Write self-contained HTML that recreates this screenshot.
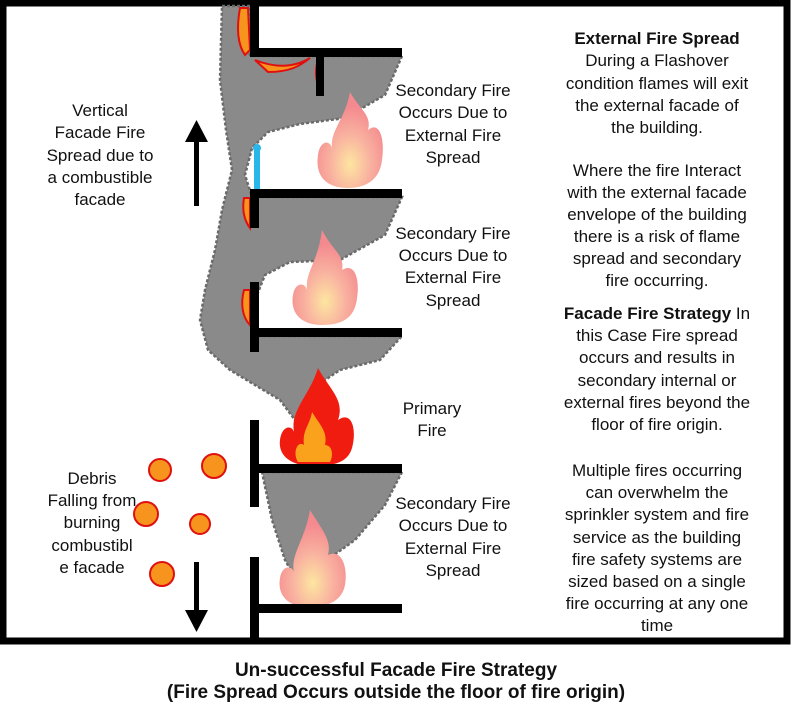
<!DOCTYPE html>
<html><head><meta charset="utf-8"><style>
html,body{margin:0;padding:0;background:#fff}
body{width:793px;height:712px;overflow:hidden;position:relative;font-family:"Liberation Sans",Arial,sans-serif}
svg{position:absolute;left:0;top:0}
</style></head><body>
<svg width="793" height="712" viewBox="0 0 793 712">
<defs>
<radialGradient id="pk" cx="50%" cy="75%" r="60%"><stop offset="0" stop-color="#fde6a0"/><stop offset="0.5" stop-color="#f9b3a0"/><stop offset="1" stop-color="#f48a8f"/></radialGradient>
</defs>
<!-- frame -->
<rect x="3" y="3" width="784" height="638" fill="none" stroke="#000" stroke-width="7"/>
<!-- smoke -->
<g fill="#8a8a8a" stroke="#6a6a6a" stroke-width="2.5" stroke-dasharray="3 2">
<path d="M222,6 L250,6 L250,56 L402,56 L385,95 L345,118 L300,124 L268,132 L252,148 L245,175 L252,197 L402,197 L385,235 L340,260 L290,262 L265,275 L255,300 L258,336 L402,336 L380,360 L340,370 L310,390 L295,420 L280,400 L255,385 L230,370 L208,350 L200,320 L205,290 L215,250 L222,210 L232,170 L226,130 L220,80 Z"/>
<path d="M262,472 L402,472 L385,505 L355,540 L320,565 L302,590 L285,560 L272,520 Z"/>
</g>
<!-- blue bar -->
<rect x="254" y="148" width="6" height="45" fill="#29b6e8"/><circle cx="257" cy="148" r="4" fill="#29b6e8"/>
<!-- pink flames -->
<g fill="url(#pk)">
<path d="M350,92 C360,110 372,115 368,130 C380,120 385,140 382,160 C380,178 368,188 348,188 C325,188 315,175 318,155 C320,140 330,140 332,148 C330,130 345,120 350,92Z"/>
<path d="M322,230 C332,250 345,255 342,270 C355,262 360,280 357,298 C355,318 342,325 322,325 C300,325 290,312 293,295 C295,282 305,282 307,290 C305,272 318,262 322,230Z"/>
<path d="M310,510 C322,530 332,540 328,555 C342,548 348,568 345,585 C342,600 330,607 308,607 C288,607 277,595 280,578 C282,565 292,565 294,572 C290,555 305,540 310,510Z"/>
</g>
<!-- primary fire -->
<path d="M318,368 C330,390 345,400 338,420 C352,410 357,430 352,448 C348,462 335,466 313,466 C290,466 278,455 280,440 C282,425 292,425 294,432 C290,410 310,395 318,368Z" fill="#f01c10"/>
<path d="M312,412 C320,425 328,432 325,445 C332,445 334,455 330,462 L298,462 C292,452 298,440 304,445 C302,430 310,425 312,412Z" fill="#fba21c"/>
<!-- small wall flames -->
<g fill="#f7941d" stroke="#e01010" stroke-width="2">
<path d="M240,8 L248,8 L250,50 L245,55 C238,45 236,30 240,8Z"/>
<path d="M255,60 C270,66 290,70 310,58 C300,66 290,72 268,72 Z"/>
<path d="M318,60 L322,60 L322,92 C316,85 314,72 318,60Z"/>
<path d="M244,198 L250,198 L250,228 C244,220 242,210 244,198Z"/>
<path d="M244,290 L250,290 L250,325 C243,318 240,305 244,290Z"/>
</g>
<!-- walls and slabs -->
<g fill="#000">
<rect x="250" y="6" width="9" height="50"/><rect x="250" y="48" width="152" height="9"/><rect x="316" y="56" width="8" height="40"/>
<rect x="250" y="189" width="152" height="9"/><rect x="250" y="193" width="9" height="35"/>
<rect x="250" y="328" width="152" height="9"/><rect x="250" y="282" width="9" height="70"/>
<rect x="250" y="464" width="152" height="9"/><rect x="250" y="420" width="9" height="87"/>
<rect x="250" y="604" width="152" height="9"/><rect x="250" y="557" width="9" height="85"/>
</g>
<!-- arrows -->
<rect x="194" y="140" width="5" height="66" fill="#000"/><path d="M185,142 L196.5,120 L208,142Z" fill="#000"/>
<rect x="194" y="562" width="5" height="50" fill="#000"/><path d="M185,610 L196.5,632 L208,610Z" fill="#000"/>
<!-- debris -->
<g fill="#f7941d" stroke="#e01010" stroke-width="2">
<circle cx="160" cy="470" r="11"/><circle cx="214" cy="466" r="12"/><circle cx="146" cy="514" r="12"/><circle cx="200" cy="524" r="10"/><circle cx="162" cy="574" r="12"/>
</g>
<!-- texts -->
<g font-family="'Liberation Sans',Arial,sans-serif" font-size="17" text-anchor="middle" fill="#111">
<text x="657" y="44" font-weight="bold">External Fire Spread</text>
<text x="657" y="66">During a Flashover</text>
<text x="657" y="89">condition flames will exit</text>
<text x="657" y="111">the external facade of</text>
<text x="657" y="133">the building.</text>
<text x="657" y="176">Where the fire Interact</text>
<text x="657" y="198">with the external facade</text>
<text x="657" y="220">envelope of the building</text>
<text x="657" y="242">there is a risk of flame</text>
<text x="657" y="264">spread and secondary</text>
<text x="657" y="286">fire occurring.</text>
<text x="657" y="319"><tspan font-weight="bold">Facade Fire Strategy</tspan> In</text>
<text x="657" y="341">this Case Fire spread</text>
<text x="657" y="363">occurs and results in</text>
<text x="657" y="386">secondary internal or</text>
<text x="657" y="408">external fires beyond the</text>
<text x="657" y="430">floor of fire origin.</text>
<text x="657" y="476">Multiple fires occurring</text>
<text x="657" y="498">can overwhelm the</text>
<text x="657" y="520">sprinkler system and fire</text>
<text x="657" y="543">service as the building</text>
<text x="657" y="565">fire safety systems are</text>
<text x="657" y="587">sized based on a single</text>
<text x="657" y="609">fire occurring at any one</text>
<text x="657" y="631">time</text>
<text x="453" y="96">Secondary Fire</text><text x="453" y="118">Occurs Due to</text><text x="453" y="141">External Fire</text><text x="453" y="163">Spread</text>
<text x="453" y="239">Secondary Fire</text><text x="453" y="261">Occurs Due to</text><text x="453" y="283">External Fire</text><text x="453" y="306">Spread</text>
<text x="432" y="414">Primary</text><text x="432" y="436">Fire</text>
<text x="453" y="509">Secondary Fire</text><text x="453" y="531">Occurs Due to</text><text x="453" y="554">External Fire</text><text x="453" y="576">Spread</text>
<text x="100" y="116">Vertical</text><text x="100" y="138">Facade Fire</text><text x="100" y="161">Spread due to</text><text x="100" y="183">a combustible</text><text x="100" y="205">facade</text>
<text x="92" y="484">Debris</text><text x="92" y="506">Falling from</text><text x="92" y="528">burning</text><text x="92" y="551">combustibl</text><text x="92" y="573">e facade</text>
</g>
<g font-family="'Liberation Sans Narrow','Liberation Sans',Arial,sans-serif" font-size="19" font-weight="bold" text-anchor="middle" fill="#111">
<text x="396" y="676">Un-successful Facade Fire Strategy</text>
<text x="396" y="698">(Fire Spread Occurs outside the floor of fire origin)</text>
</g>
</svg>
</body></html>
